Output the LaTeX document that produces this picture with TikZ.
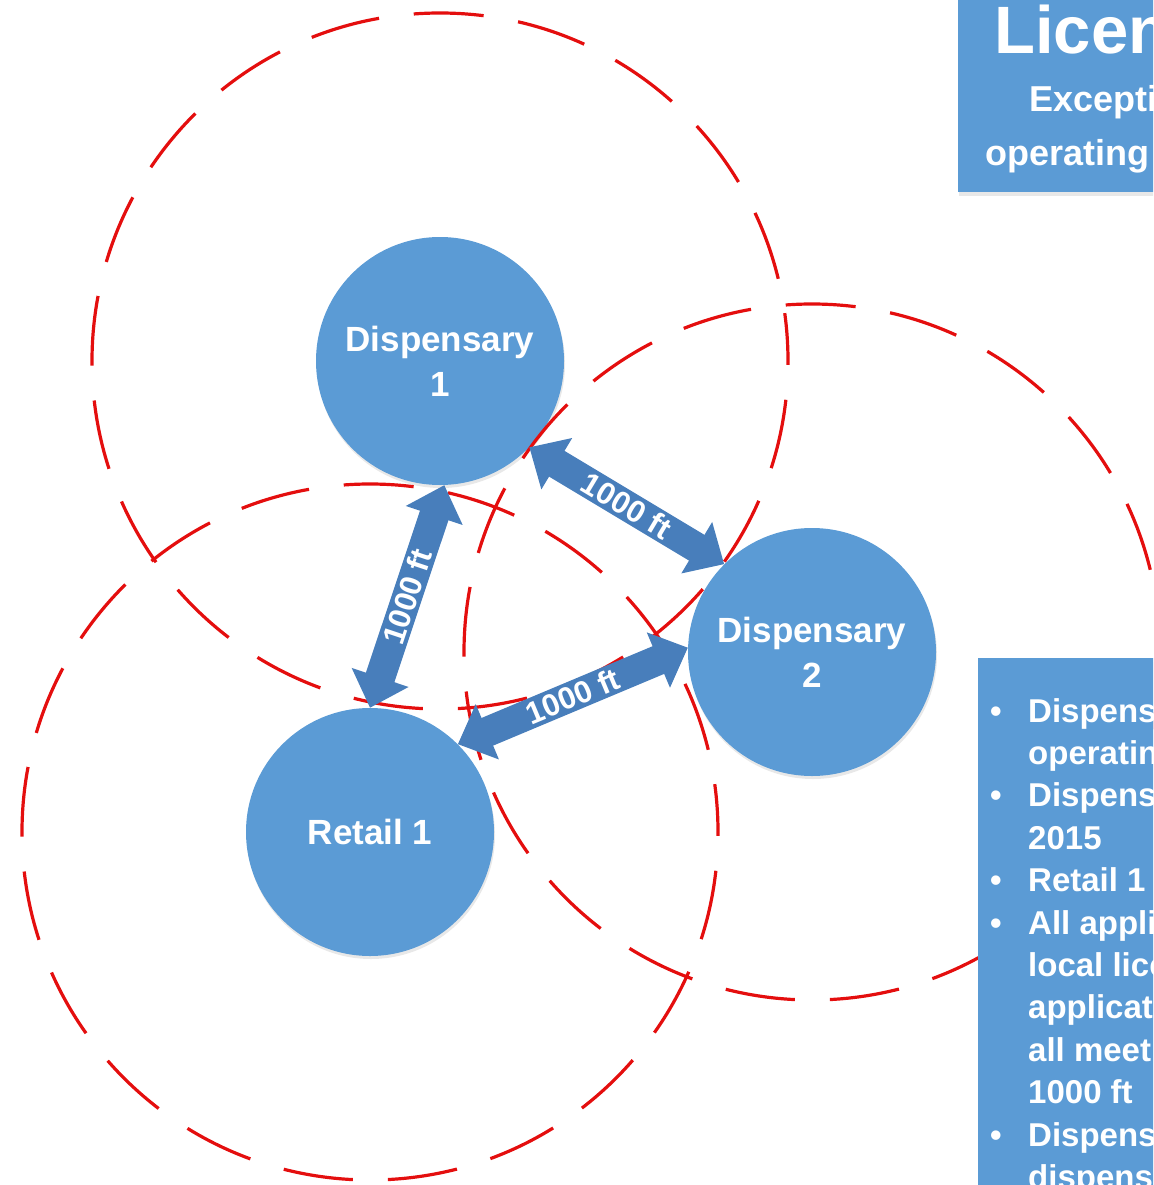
\documentclass[tikz,border=0pt]{standalone}
\usepackage{fontspec}
\setmainfont{Liberation Sans}
\usepackage{xcolor}
\usepackage{tikz}
\usetikzlibrary{calc}
\usetikzlibrary{arrows.meta}
\usetikzlibrary{shadows}
\definecolor{siteblue}{RGB}{91,155,213}
\definecolor{arrowblue}{RGB}{72,126,187}
\definecolor{zonered}{RGB}{228,14,14}
\tikzset{>=latex}
\tikzstyle{site} = [circle, draw = none, fill = siteblue, minimum size = 248pt, inner sep = 0, align = center, text = white, font = \bfseries\fontsize{35}{45}\selectfont, drop shadow = {opacity = 0.18, shadow xshift = 1pt, shadow yshift = -3pt}]
\tikzstyle{zone} = [draw = zonered, line width = 3.2pt, dash pattern = on 70pt off 35pt, dash phase = 22pt]
\tikzstyle{gap} = [{Triangle[length = 32pt, width = 58pt]}-{Triangle[length = 32pt, width = 58pt]}, draw = arrowblue, line width = 30pt]
\tikzstyle{dist} = [midway, sloped, text = white, inner sep = 0, font = \bfseries\fontsize{31}{36}\selectfont]
\tikzstyle{infobox} = [rectangle, draw = none, fill = siteblue, inner sep = 0, anchor = north west, drop shadow = {opacity = 0.18, shadow xshift = 1pt, shadow yshift = -4pt}]
\tikzstyle{infotext} = [draw = none, inner sep = 0, anchor = base west, text = white]

\begin{document}
\begin{tikzpicture}[x = 1pt, y = -1pt]
\useasboundingbox (0, 0) rectangle (1153, 1185);
\clip (0, 0) rectangle (1153, 1185);

\node [site] (d1) at (440, 361) {Dispensary\\1};
\node [site] (d2) at (812, 652) {Dispensary\\2};
\node [site] (r1) at (370, 832) {Retail 1};

% 1000 ft buffers
\draw [zone] (d1.center) circle [radius = 348pt];
\draw [zone] (d2.center) circle [radius = 348pt];
\draw [zone] (r1.center) circle [radius = 348pt];

\draw [gap] (d1.-44) to node [dist] {1000 ft} (d2.135);
\draw [gap] (d1.-88) to node [dist] {1000 ft} (r1.90);
\draw [gap] (r1.45) to node [dist] {1000 ft} (d2.178);

\node [infobox, minimum width = 260pt, minimum height = 216pt] (titlebox) at (958, -24) {};
\node [infotext, font = \bfseries\fontsize{67}{72}\selectfont] (title) at (994, 54) {Licensing};
\node [infotext, font = \bfseries\fontsize{36}{42}\selectfont] (sub1) at (1029, 112) {Exception};
\node [infotext, font = \bfseries\fontsize{36}{42}\selectfont] (sub2) at (985, 166) {operating};

\node [infobox, minimum width = 220pt, minimum height = 560pt] (notebox) at (978, 658) {};
\node [infotext, font = \bfseries\fontsize{33}{42.4}\selectfont] (notes) at (990, 722) {%
\begin{tabular}[t]{@{}l@{}l@{}}
\makebox[38pt][l]{\textbullet} & Dispensary 1 \\
 & operating \\
\makebox[38pt][l]{\textbullet} & Dispensary 2 \\
 & 2015 \\
\makebox[38pt][l]{\textbullet} & Retail 1 \\
\makebox[38pt][l]{\textbullet} & All applicants \\
 & local licensing \\
 & applications \\
 & all meet \\
 & 1000 ft \\
\makebox[38pt][l]{\textbullet} & Dispensary \\
 & dispensary \\
\end{tabular}};
\end{tikzpicture}
\end{document}
